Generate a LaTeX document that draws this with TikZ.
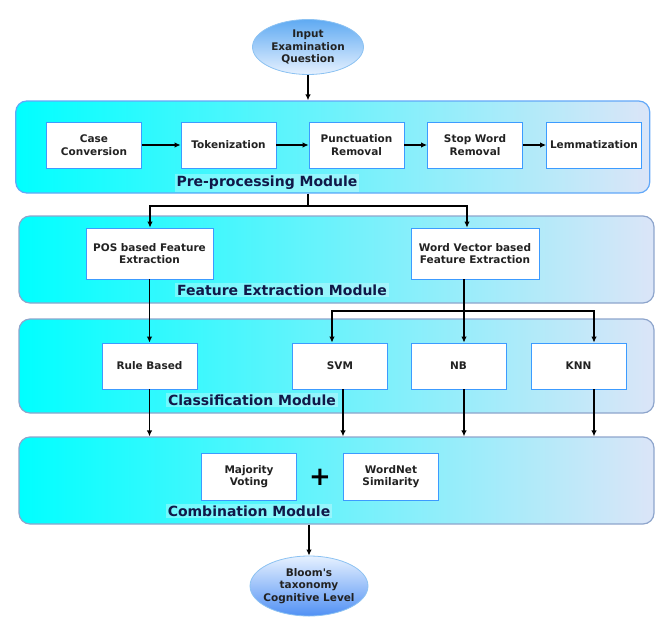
\documentclass[tikz,border=0pt]{standalone}
\usepackage{fontspec}
\setmainfont{DejaVu Sans}
\usetikzlibrary{arrows.meta,positioning,calc,shapes.geometric}

\definecolor{modL}{HTML}{00FFFF}
\definecolor{modR}{HTML}{DBE5F8}
\definecolor{modEdge}{HTML}{8EA5CC}
\definecolor{preEdge}{HTML}{62A8F8}
\definecolor{boxEdge}{HTML}{3C9BFF}
\definecolor{ellBlue}{HTML}{5FAAF2}
\definecolor{ellLight}{HTML}{E6F1FF}
\definecolor{ellEdge}{HTML}{8CC2F2}
\definecolor{lblText}{HTML}{101848}
\definecolor{boxText}{HTML}{222222}

\begin{document}
\begin{tikzpicture}[x=1pt, y=-1pt,
  module/.style={rectangle, rounded corners=11pt, draw=modEdge, line width=1.2pt,
    left color=modL, right color=modR, inner sep=0pt},
  stepbox/.style={rectangle, draw=boxEdge, fill=white, line width=0.8pt,
    minimum width=95pt, minimum height=46pt, align=center, inner sep=1pt,
    font=\fontsize{10.5}{12.5}\selectfont\bfseries, text=boxText},
  terminal/.style={ellipse, draw=ellEdge, line width=0.8pt, align=center, inner sep=0pt,
    font=\fontsize{10.5}{12.5}\selectfont\bfseries, text=boxText},
  modlabel/.style={fill=white, fill opacity=0.3, text opacity=1, inner sep=2pt,
    font=\fontsize{14}{16}\selectfont\bfseries, text=lblText},
  flow/.style={draw, line width=1.2pt, -{Latex[length=6pt,width=5.5pt]}},
  every edge/.style={flow}
]
  \useasboundingbox (0,0) rectangle (655,616);

  % modules
  \node[module, draw=preEdge, minimum width=634pt, minimum height=92pt] (pre) at (332.75,147) {};
  \node[module, minimum width=635pt, minimum height=87pt] (fea) at (336.5,259.5) {};
  \node[module, minimum width=635pt, minimum height=94pt] (cls) at (336.5,366) {};
  \node[module, minimum width=635pt, minimum height=87pt] (com) at (336.5,480.5) {};

  \node[modlabel] (prelbl) at (267,183) {Pre-processing Module};
  \node[modlabel] (fealbl) at (282,290) {Feature Extraction Module};
  \node[modlabel] (clslbl) at (252,400) {Classification Module};
  \node[modlabel] (comlbl) at (249,511) {Combination Module};

  % start and end
  \node[terminal, top color=ellBlue, bottom color=ellLight, minimum width=111pt, minimum height=55pt]
    (inp) at (308,47) {Input\\Examination\\Question};
  \node[terminal, inner sep=-4.5pt, top color=ellLight, bottom color=ellBlue!85!blue, minimum width=118pt, minimum height=60pt]
    (out) at (309,586) {Bloom\textquotesingle s\\taxonomy\\Cognitive Level};

  % pre-processing steps
  \node[stepbox] (case) at (94,145) {Case\\Conversion};
  \node[stepbox] (tok) at (228.5,145) {Tokenization};
  \node[stepbox] (pun) at (356.5,145) {Punctuation\\Removal};
  \node[stepbox] (stop) at (475,145) {Stop Word\\Removal};
  \node[stepbox] (lem) at (594,145) {Lemmatization};

  % features
  \node[stepbox, minimum width=127pt, minimum height=51pt] (pos) at (149.5,253.5) {POS based Feature\\Extraction};
  \node[stepbox, minimum width=128pt, minimum height=51pt] (wv) at (475,253.5) {Word Vector based\\Feature Extraction};

  % classifiers
  \node[stepbox] (rule) at (149.5,366) {Rule Based};
  \node[stepbox] (svm) at (340,366) {SVM};
  \node[stepbox] (nb) at (458.5,366) {NB};
  \node[stepbox] (knn) at (578.5,366) {KNN};

  % combination
  \node[stepbox, minimum height=47pt] (maj) at (249,476.5) {Majority\\Voting};
  \node[stepbox, minimum height=47pt] (wn) at (391,476.5) {WordNet\\Similarity};
  \node[font=\fontsize{26}{26}\selectfont\bfseries, inner sep=0pt] (plus) at (320,477) {+};

  \coordinate (split) at (308,206);
  \coordinate (vsplit) at (464,311);

  \path
    (inp) edge (inp |- pre.north)
    (case) edge (tok)
    (tok) edge (pun)
    (pun) edge (stop)
    (stop) edge (lem)
    (pos) edge (rule)
    (com.south -| out) edge (out);

  \draw[line width=1.2pt] (split |- pre.south) -- (split);
  \draw[flow] (split) -| ([xshift=0.5pt]pos.north);
  \draw[flow] (split) -| ([xshift=-8pt]wv.north);

  \draw[flow] ([xshift=-11pt]wv.south) -- ([xshift=-11pt]wv.south |- nb.north);
  \draw[flow] (vsplit) -| ([xshift=-8pt]svm.north);
  \draw[flow] (vsplit) -| ([xshift=15.5pt]knn.north);

  \draw[flow] (rule.south) -- (rule.south |- com.north);
  \draw[flow] ([xshift=3pt]svm.south) -- ([xshift=3pt]svm.south |- com.north);
  \draw[flow] ([xshift=5.5pt]nb.south) -- ([xshift=5.5pt]nb.south |- com.north);
  \draw[flow] ([xshift=15.5pt]knn.south) -- ([xshift=15.5pt]knn.south |- com.north);
\end{tikzpicture}
\end{document}
